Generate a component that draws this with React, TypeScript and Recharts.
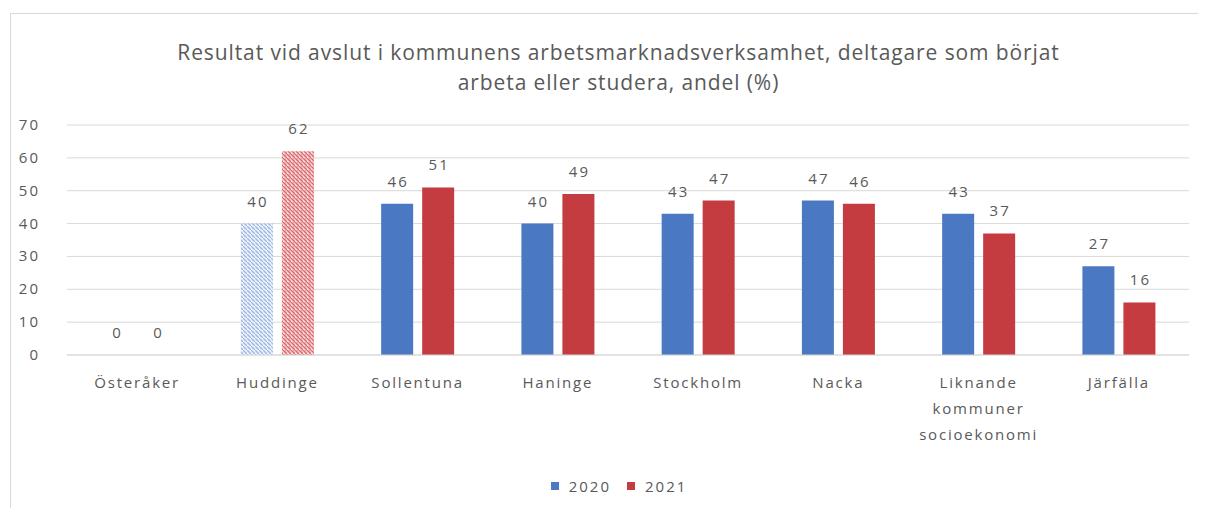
import React from 'react';
import { BarChart, Bar, XAxis, YAxis, CartesianGrid, Legend, LabelList, Cell } from 'recharts';

const categories = [
  'Österåker',
  'Huddinge',
  'Sollentuna',
  'Haninge',
  'Stockholm',
  'Nacka',
  'Liknande\nkommuner\nsocioekonomi',
  'Järfälla',
];
const values2020 = [0, 40, 46, 40, 43, 47, 43, 27];
const values2021 = [0, 62, 51, 49, 47, 46, 37, 16];
const yTicks = [0, 10, 20, 30, 40, 50, 60, 70];
// Huddinge is drawn with a hatched fill in the original
const hatched = ['Huddinge'];

const title1 = 'Resultat vid avslut i kommunens arbetsmarknadsverksamhet, deltagare som börjat';
const title2 = 'arbeta eller studera, andel (%)';

const BLUE = '#4a78c2';
const RED = '#c43c3f';
const TEXT = '#595959';
const FONT = '"Open Sans", sans-serif';

const data = categories.map((name, i) => ({ name, y2020: values2020[i], y2021: values2021[i] }));

const XTick = ({ x, y, payload }: any) => {
  const lines = String(payload.value).split('\n');
  return (
    <text x={x} y={y} textAnchor="middle" fill={TEXT} fontSize={15} fontFamily={FONT} letterSpacing={1.8}>
      {lines.map((l, i) => (
        <tspan key={i} x={x} dy={i === 0 ? 33 : 26}>{l}</tspan>
      ))}
    </text>
  );
};

const YTick = ({ x, y, payload }: any) => (
  <text x={x - 10} y={y} dy={5} textAnchor="end" fill={TEXT} fontSize={15} fontFamily={FONT} letterSpacing={2}>
    {payload.value}
  </text>
);

const ValueLabel = ({ x, y, width, value }: any) => (
  <text x={x + width / 2 + 1} y={y - 17} textAnchor="middle" fill={TEXT} fontSize={15} fontFamily={FONT} letterSpacing={2}>
    {value}
  </text>
);

const LegendContent = () => (
  <div style={{ display: 'flex', justifyContent: 'center', alignItems: 'center', paddingLeft: 23, fontFamily: FONT, fontSize: 15, color: TEXT, letterSpacing: 2 }}>
    <span style={{ width: 8, height: 8, background: BLUE, display: 'inline-block', marginRight: 10 }} />
    <span style={{ marginRight: 16 }}>2020</span>
    <span style={{ width: 8, height: 8, background: RED, display: 'inline-block', marginRight: 10 }} />
    <span>2021</span>
  </div>
);

export default function App() {
  return (
    <div style={{ position: 'relative', left: 2, top: 5, width: 1195, height: 500, border: '1px solid #d9d9d9', boxSizing: 'border-box', background: '#fff' }}>
      <div style={{ position: 'absolute', top: 23, left: 11, width: 1193, textAlign: 'center', fontFamily: FONT, fontSize: 21, letterSpacing: 0.9, lineHeight: '30px', color: TEXT }}>
        <div>{title1}</div>
        <div>{title2}</div>
      </div>
      <BarChart
        width={1193}
        height={494}
        data={data}
        margin={{ top: 111, right: 15, left: 0, bottom: 123 }}
        barCategoryGap="24%"
        barGap={9}
      >
        <defs>
          <pattern id="hatchBlue" width="4" height="4" patternUnits="userSpaceOnUse">
            <rect width="4" height="4" fill="#eef3fb" />
            <path d="M-1,-1 l2,2 M0,0 l4,4 M3,3 l2,2" stroke="#9fb9e3" strokeWidth="1.4" />
          </pattern>
          <pattern id="hatchRed" width="4" height="4" patternUnits="userSpaceOnUse">
            <rect width="4" height="4" fill="#f8dada" />
            <path d="M-1,-1 l2,2 M0,0 l4,4 M3,3 l2,2" stroke="#e0656b" strokeWidth="1.4" />
            <circle cx="3" cy="0.8" r="0.45" fill="#7a2a2d" />
          </pattern>
        </defs>
        <CartesianGrid vertical={false} stroke="#d9d9d9" />
        <XAxis
          dataKey="name"
          axisLine={{ stroke: '#d9d9d9' }}
          tickLine={false}
          tickSize={0}
          tickMargin={0}
          height={30}
          interval={0}
          tick={<XTick />}
        />
        <YAxis
          domain={[0, 70]}
          ticks={yTicks}
          axisLine={false}
          tickLine={false}
          tickSize={0}
          tickMargin={17}
          width={56}
          tick={<YTick />}
        />
        <Legend layout="horizontal" verticalAlign="middle" align="center" content={<LegendContent />} wrapperStyle={{ top: 462, left: 0, width: 1193 }} />
        <Bar dataKey="y2020" name="2020" fill={BLUE} minPointSize={0.01} isAnimationActive={false}>
          {data.map((d) => (
            <Cell key={d.name} fill={hatched.includes(d.name) ? 'url(#hatchBlue)' : BLUE} />
          ))}
          <LabelList dataKey="y2020" content={<ValueLabel />} />
        </Bar>
        <Bar dataKey="y2021" name="2021" fill={RED} minPointSize={0.01} isAnimationActive={false}>
          {data.map((d) => (
            <Cell key={d.name} fill={hatched.includes(d.name) ? 'url(#hatchRed)' : RED} />
          ))}
          <LabelList dataKey="y2021" content={<ValueLabel />} />
        </Bar>
      </BarChart>
    </div>
  );
}
